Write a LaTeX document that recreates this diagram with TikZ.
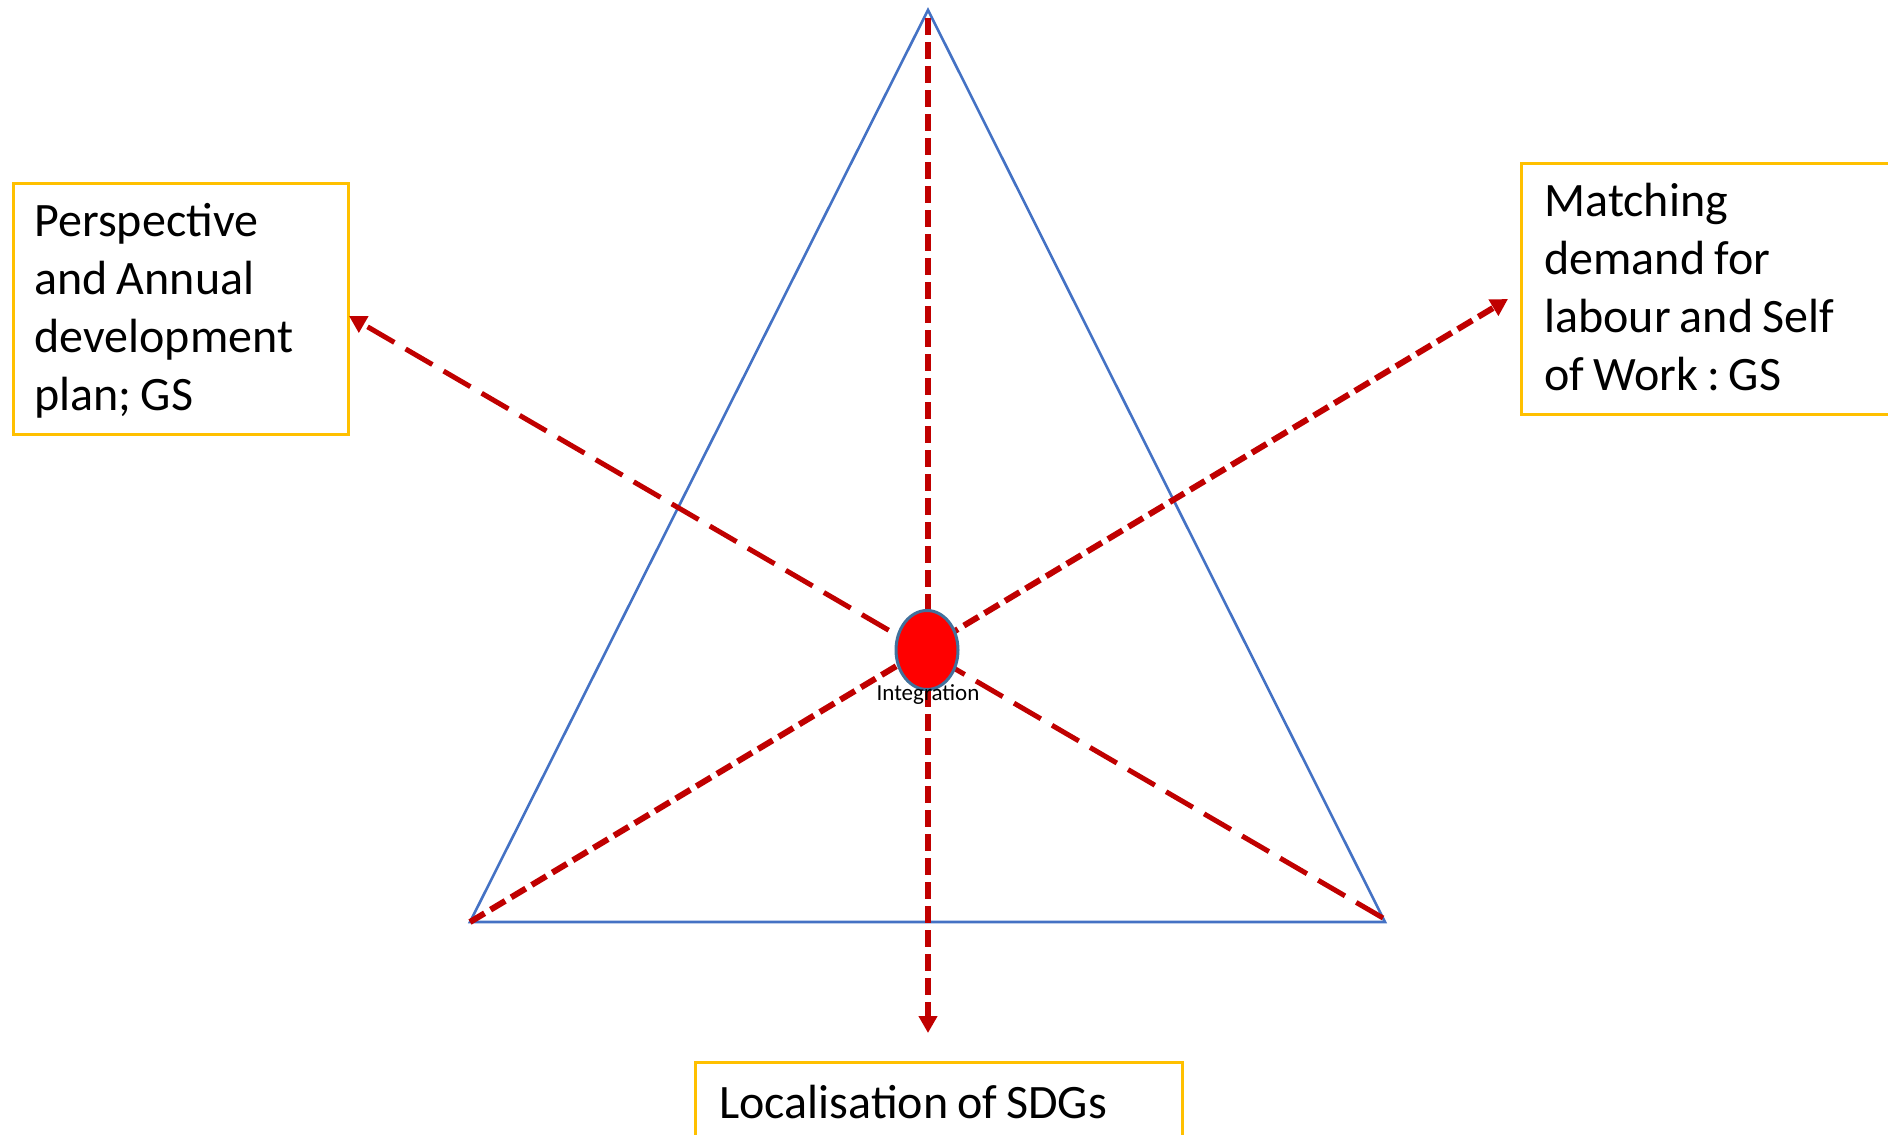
\documentclass[tikz,border=0pt]{standalone}
\usepackage{fontspec}
\setmainfont{Carlito}
\usetikzlibrary{arrows.meta,shapes.geometric}

\definecolor{triblue}{HTML}{4472C4}
\definecolor{arrowred}{HTML}{C00000}
\definecolor{boxgold}{HTML}{FFC000}
\definecolor{ringblue}{HTML}{41719C}

\begin{document}
\frenchspacing
\begin{tikzpicture}[x=1pt, y=-1pt,
			goalbox/.style={draw=boxgold, line width=3pt, anchor=north west, align=left,
				inner xsep=21pt, inner ysep=17pt, text height=36pt,
				font=\fontsize{48}{58}\selectfont,
				execute at begin node={\spaceskip=9pt plus 1pt minus 1pt\relax}},
			side/.style={triblue, line width=2.6pt, line join=miter},
			longdash/.style={arrowred, line width=5pt, dash pattern=on 31pt off 13pt,
				-{Triangle[length=17pt, width=18pt]}},
			shortdash/.style={arrowred, line width=6pt, dash pattern=on 17pt off 7pt,
				-{Triangle[length=17pt, width=18pt]}},
			hubstyle/.style={ellipse, fill=red, draw=ringblue, line width=3pt,
				minimum width=62pt, minimum height=79pt, inner sep=0pt}]

		\useasboundingbox (0,0) rectangle (1888,1135);

		\coordinate (apex) at (928,10);
		\coordinate (baseL) at (470,922);
		\coordinate (baseR) at (1385,922);
		\coordinate (apexIn) at (928,18);
		\coordinate (planTip) at (349,316);
		\coordinate (workTip) at (1508,299);
		\coordinate (sdgTip) at (928,1033);

		\draw[side] (apex) -- (baseL) -- (baseR) -- cycle;

		\node[goalbox, text width=293pt, text depth=181pt] (plan) at (12,182)
			{Perspective\\and Annual\\development\\plan; GS};
		\node[goalbox, inner xsep=23pt, text width=360pt, text depth=181pt] (work) at (1520,162)
			{Matching\\demand for\\labour and Self\\of Work : GS};
		\node[goalbox, inner xsep=24pt, inner ysep=20pt, text width=439pt, text depth=60pt] (sdg) at (694,1061)
			{Localisation of SDGs};

		\draw[longdash] (1383,918) -- (planTip);
		\draw[shortdash] (baseL) -- (workTip);
		\draw[shortdash] (apexIn) -- (sdgTip);

		\node[hubstyle] (hub) at (927,650) {};
		\node[anchor=base, inner sep=0pt, font=\fontsize{23}{26}\selectfont] (hublabel) at (928,700) {Integration};
	\end{tikzpicture}
\end{document}
